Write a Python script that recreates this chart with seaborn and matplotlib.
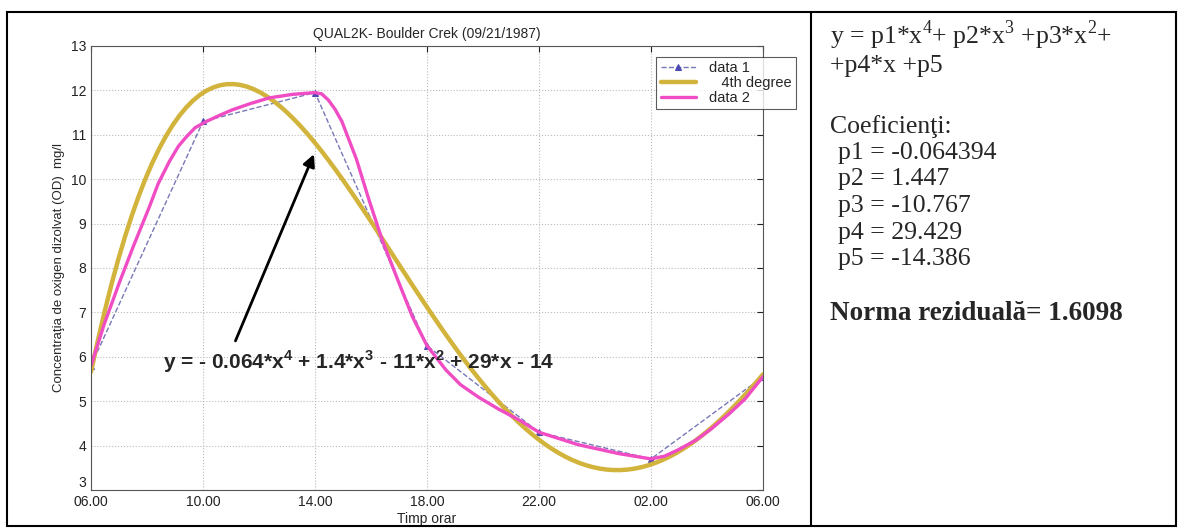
import numpy as np
import pandas as pd
import matplotlib
matplotlib.use("Agg")
import matplotlib.pyplot as plt
from matplotlib.patches import Rectangle
from matplotlib.lines import Line2D
import seaborn as sns

# data
hour_pos = [1, 2, 3, 4, 5, 6, 7]
hour_labels = ['06.00', '10.00', '14.00', '18.00', '22.00', '02.00', '06.00']
od_measured = [5.80, 11.30, 11.95, 6.25, 4.30, 3.70, 5.55]

# "data 2" smooth curve
smooth_x = [1.00, 1.12, 1.25, 1.38, 1.52, 1.60, 1.70, 1.78, 1.85, 1.93, 2.03, 2.15,
            2.26, 2.42, 2.59, 2.80, 3.00, 3.06, 3.12, 3.18, 3.24, 3.37, 3.48, 3.60,
            3.75, 3.87, 4.00, 4.17, 4.30, 4.46, 4.64, 4.82, 5.00, 5.35, 5.71, 6.00,
            6.12, 6.24, 6.40, 6.54, 6.70, 6.84, 7.00]
smooth_y = [5.80, 6.75, 7.65, 8.50, 9.37, 9.90, 10.40, 10.74, 10.95, 11.16, 11.30, 11.44,
            11.56, 11.70, 11.83, 11.91, 11.95, 11.92, 11.78, 11.57, 11.30, 10.45, 9.55, 8.63,
            7.66, 6.90, 6.25, 5.70, 5.37, 5.09, 4.82, 4.58, 4.30, 4.02, 3.82, 3.70,
            3.76, 3.90, 4.12, 4.38, 4.72, 5.05, 5.55]

coef_names = ['p1', 'p2', 'p3', 'p4', 'p5']
coef_values = ['-0.064394', '1.447', '-10.767', '29.429', '-14.386']
residual_norm = '1.6098'

df1 = pd.DataFrame({'x': hour_pos, 'y': od_measured})
df2 = pd.DataFrame({'x': smooth_x, 'y': smooth_y})

sns.set_style("white")
plt.rcParams['font.family'] = ['Liberation Sans', 'DejaVu Sans']
plt.rcParams['mathtext.fontset'] = 'custom'
plt.rcParams['mathtext.rm'] = 'Liberation Serif'
plt.rcParams['mathtext.sf'] = 'Liberation Sans:bold'

fig = plt.figure(figsize=(11.82, 5.32), dpi=100)
ax = fig.add_axes([0.077, 0.079, 0.5685, 0.8346])

sns.lineplot(data=df1, x='x', y='y', ax=ax, color='#7878b8', lw=1.0,
             linestyle='--', marker='^', markersize=5, markerfacecolor='#4a4ab0',
             markeredgecolor='#4a4ab0', label='data 1')
sns.regplot(data=df1, x='x', y='y', ax=ax, order=4, ci=None, scatter=False,
            line_kws=dict(color='#d2b43c', lw=3.2), label='   4th degree')
sns.lineplot(data=df2, x='x', y='y', ax=ax, color='#f04cc4', lw=2.4,
             sort=False, label='data 2')

ax.set_xlim(1, 7)
ax.set_ylim(3, 13)
ax.set_xticks(hour_pos)
ax.set_xticklabels(hour_labels)
ax.set_yticks(range(3, 14))
ax.tick_params(direction='in', top=True, right=True, length=4, labelsize=10,
               colors='#222222')
ax.grid(True, linestyle=':', color='#bbbbbb', lw=0.8)
for s in ax.spines.values():
    s.set_color('#555555')
    s.set_linewidth(0.8)
# the "3" sits raised above the corner, as in the scan
ax.yaxis.get_major_ticks()[0].label1.set_verticalalignment('bottom')

ax.set_title('QUAL2K- Boulder Crek (09/21/1987)', fontsize=10, pad=6)
ax.set_xlabel('Timp orar', fontsize=10, labelpad=2)
ax.set_ylabel('Concentraţia de oxigen dizolvat (OD)  mg/l', fontsize=9.5, labelpad=4)

h, l = ax.get_legend_handles_labels()
leg = ax.legend(h, l, loc='upper left', bbox_to_anchor=(0.841, 0.975),
                fontsize=10.5, frameon=True, fancybox=False, borderpad=0.3,
                labelspacing=0.05, handlelength=2.4, handletextpad=0.9,
                borderaxespad=0)
leg.get_frame().set_edgecolor('#333333')
leg.get_frame().set_linewidth(0.8)

ax.annotate('', xy=(3.0, 10.62), xytext=(2.28, 6.3),
            arrowprops=dict(arrowstyle='-|>', color='black', lw=2,
                            mutation_scale=18))
ax.text(1.64, 5.88,
        r'y = - 0.064*x$^\mathsf{4}$ + 1.4*x$^\mathsf{3}$ - 11*x$^\mathsf{2}$ + 29*x - 14',
        fontsize=15, fontweight='bold', va='center', ha='left')

# outer frame and divider
fig.patches.append(Rectangle((7 / 1182, 0.011), (1176 - 7) / 1182, 0.966,
                             transform=fig.transFigure, fill=False,
                             edgecolor='black', lw=1.5))
fig.lines.append(Line2D([811 / 1182, 811 / 1182], [0.011, 0.977],
                        transform=fig.transFigure, color='black', lw=1.5))

# right-hand text
serif = ['Liberation Serif', 'DejaVu Serif']
def fy(py):
    return 1 - py / 532

fs = 18.5
fig.text(830 / 1182, fy(35), r'y = p1*x$^\mathrm{4}$+ p2*x$^\mathrm{3}$ +p3*x$^\mathrm{2}$+',
         family=serif, fontsize=fs, va='center')
fig.text(830 / 1182, fy(66), '+p4*x +p5', family=serif, fontsize=fs, va='center')
fig.text(830 / 1182, fy(127), 'Coeficienţi:', family=serif, fontsize=fs, va='center')
for i, (n, v) in enumerate(zip(coef_names, coef_values)):
    fig.text(838 / 1182, fy(153 + i * 26.5), f'{n} = {v}', family=serif,
             fontsize=fs, va='center')
fig.text(830 / 1182, fy(313), f'Norma reziduală= {residual_norm}', family=serif,
         fontsize=19.5, fontweight='bold', va='center')

fig.savefig('out.png', dpi=100)
